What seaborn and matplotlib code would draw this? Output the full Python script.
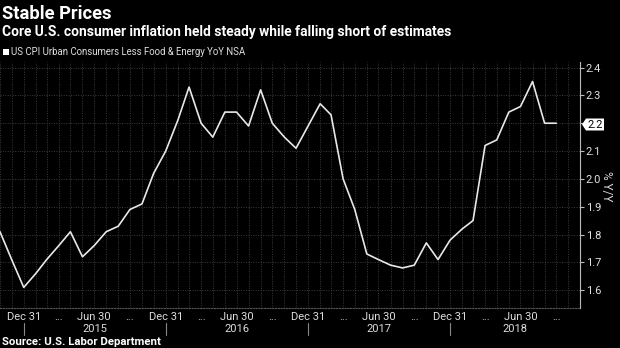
import numpy as np
import pandas as pd
import matplotlib
matplotlib.use("Agg")
import matplotlib.pyplot as plt
import matplotlib.dates as mdates
from matplotlib.transforms import blended_transform_factory
import seaborn as sns

# ---- data ----
start_month = "2014-10-31"
end_month = "2018-09-30"
values = [1.81, 1.71, 1.61,
          1.66, 1.71, 1.76, 1.81, 1.72, 1.76, 1.81, 1.83, 1.89, 1.91, 2.02, 2.10,
          2.21, 2.33, 2.20, 2.15, 2.24, 2.24, 2.19, 2.32, 2.20, 2.15, 2.11, 2.19,
          2.27, 2.23, 2.00, 1.89, 1.73, 1.71, 1.69, 1.68, 1.69, 1.77, 1.71, 1.78,
          1.82, 1.85, 2.12, 2.14, 2.24, 2.26, 2.35, 2.20, 2.20]
y_ticks = [1.6, 1.7, 1.8, 1.9, 2.0, 2.1, 2.2, 2.3, 2.4]
x_tick_texts = ["Dec 31", "...", "Jun 30", "..."]
years = ["2015", "2016", "2017", "2018"]
title = "Stable Prices"
subtitle = "Core U.S. consumer inflation held steady while falling short of estimates"
legend_label = "US CPI Urban Consumers Less Food & Energy YoY NSA"
source = "Source: U.S. Labor Department"
last_value = "2.2"

dates = pd.date_range(start_month, end_month, freq="ME")
df = pd.DataFrame({"date": dates, "value": values})

# ---- figure ----
sns.set_style("dark")
plt.rcParams["font.family"] = ["Roboto", "DejaVu Sans"]
W, H = 620, 348
fig = plt.figure(figsize=(W / 100, H / 100), dpi=100, facecolor="black")
ax = fig.add_axes([0, (H - 308) / H, 580 / W, (308 - 62) / H])
ax.set_facecolor("black")

sns.lineplot(data=df, x="date", y="value", ax=ax, color="#e8e8e8", linewidth=1.2)

x_right = pd.Timestamp("2018-11-28")
ax.set_xlim(pd.Timestamp("2014-10-31"), x_right)
ax.set_ylim(1.536, 2.42)
ax.set_xlabel("")
ax.set_ylabel("")

# y axis on right
ax.yaxis.tick_right()
ax.set_yticks(y_ticks)
ax.set_yticklabels(["" if abs(v - 2.2) < 1e-9 else f"{v:.1f}" for v in y_ticks])
ax.tick_params(axis="y", colors="#bbbbbb", labelcolor="#e0e0e0", labelsize=8,
               length=3, width=0.8, pad=1, direction="out")

# x axis ticks
month_ends = pd.date_range("2014-10-31", "2018-11-30", freq="ME")
major = pd.date_range("2014-12-31", "2018-09-30", freq="3ME")
ax.set_xticks(major)
ax.set_xticklabels([x_tick_texts[i % 4] for i in range(len(major))])
ax.set_xticks(month_ends, minor=True)
ax.tick_params(axis="x", which="major", colors="#999999", labelcolor="#dddddd",
               labelsize=8, length=2, width=0.8, pad=3, direction="in")
ax.tick_params(axis="x", which="minor", colors="#999999", length=2, width=0.8,
               direction="in")

# grid
ax.grid(False)
for d in month_ends:
    ax.axvline(d, color="#3c3c3c", linewidth=0.7, linestyle=(0, (1, 1.5)), zorder=0)
for v in y_ticks:
    ax.axhline(v, color="#3c3c3c", linewidth=0.7, linestyle=(0, (1, 1.5)), zorder=0)

for s in ["top", "left"]:
    ax.spines[s].set_visible(False)
ax.spines["right"].set_color("#bbbbbb")
ax.spines["right"].set_linewidth(0.8)
ax.spines["bottom"].set_color("#555555")
ax.spines["bottom"].set_linewidth(0.8)
ax.spines["bottom"].set_linestyle((0, (1, 1.5)))

# year labels and dividers
trans = blended_transform_factory(ax.transData, fig.transFigure)
year_bounds = [pd.Timestamp("2014-12-31"), pd.Timestamp("2015-12-31"),
               pd.Timestamp("2016-12-31"), pd.Timestamp("2017-12-31"), x_right]
for i, yr in enumerate(years):
    a, b = year_bounds[i], year_bounds[i + 1]
    mid = a + (b - a) / 2
    ax.text(mid, 1 - 329 / H, yr, transform=trans, ha="center", va="center",
            color="#dddddd", fontsize=8)
for b in year_bounds[:4]:
    ax.plot([b, b], [1 - 323 / H, 1 - 335 / H], transform=trans, color="#888888",
            linewidth=0.8, clip_on=False)

# last value tag
fig.patches.append(plt.Polygon([[582 / W, 1 - 124.5 / H], [586 / W, 1 - 118.5 / H],
                                [604 / W, 1 - 118.5 / H], [604 / W, 1 - 130.5 / H],
                                [586 / W, 1 - 130.5 / H]], closed=True,
                               transform=fig.transFigure, facecolor="white",
                               edgecolor="none", zorder=1))
fig.text(595 / W, 1 - 124.5 / H, last_value, ha="center", va="center", color="black",
         fontsize=8, zorder=5)

# y unit label
fig.text(606 / W, 1 - 186 / H, "% Y/Y", rotation=270, ha="center", va="center",
         color="#dddddd", fontsize=8.5)

# titles
fig.text(2 / W, 1 - 14 / H, title, ha="left", va="center", color="white",
         fontsize=13.2, fontweight="bold")
fig.text(2 / W, 1 - 32 / H, subtitle, ha="left", va="center", color="white",
         fontsize=9.9, fontweight="bold")
fig.patches.append(plt.Rectangle((3 / W, 1 - 55 / H), 6 / W, 6 / H,
                                 transform=fig.transFigure, facecolor="white",
                                 edgecolor="none"))
fig.text(11 / W, 1 - 52 / H, legend_label, ha="left", va="center", color="#dddddd",
         fontsize=6.9)
fig.text(2 / W, 1 - 342 / H, source, ha="left", va="center", color="white",
         fontsize=8.2, fontweight="bold")

fig.savefig("out.png", dpi=100, facecolor="black")
